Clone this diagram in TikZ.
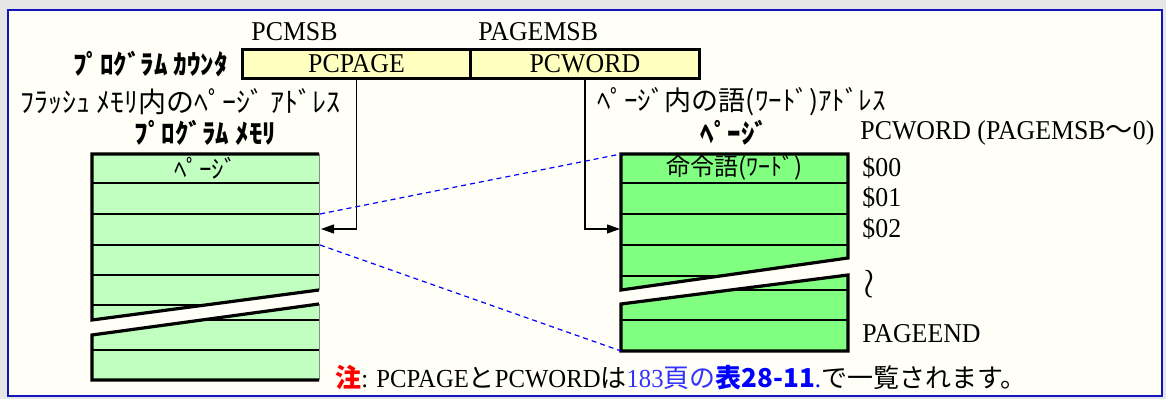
\documentclass[tikz,border=0pt]{standalone}
\usepackage{fontspec}
\setmainfont[FakeStretch=0.95]{Liberation Serif}
\newfontfamily\jp{Noto Sans CJK JP}
\usepackage{tikz}
\usetikzlibrary{arrows.meta, positioning, calc}
\definecolor{bleu}{RGB}{0,0,255}
\definecolor{bleuclair}{RGB}{50,50,255}
\definecolor{cadre}{RGB}{20,20,190}
\definecolor{gris}{RGB}{230,230,230}
\definecolor{ivoire}{RGB}{255,255,248}
\definecolor{jaune}{RGB}{255,255,192}
\definecolor{vertclair}{RGB}{192,255,192}
\definecolor{vert}{RGB}{128,255,128}
\definecolor{rouge}{RGB}{255,0,0}
\tikzset{
	texte/.style={inner sep=0pt, font=\fontsize{13.6}{15}\selectfont},
	champ/.style={texte, draw, line width=0.7pt, fill=jaune,
		minimum width=113.5pt, minimum height=14pt},
	ligne/.style={line width=0.7pt},
	bord/.style={line width=1.6pt, line join=miter},
	fleche/.style={line width=0.6pt, -{Triangle[length=6.5pt, width=4.5pt]}},
	pointille/.style={bleu, line width=0.6pt, dash pattern=on 2.5pt off 2pt}
}

\begin{document}
\begin{tikzpicture}[x=0.5pt, y=-0.5pt]
	% fond et cadre
	\fill[gris] (0,0) rectangle (1166,399);
	\useasboundingbox (0,0) rectangle (1166,399);
	\draw[cadre, line width=1pt, fill=ivoire] (8,10) rectangle (1162,396);
	
	% compteur programme : PCPAGE | PCWORD
	\node[champ] (pcpage) at (356.5,64) {PCPAGE};
	\node[champ, right=0pt of pcpage] (pcword) {PCWORD};
	\draw[bord] (pcpage.north west) rectangle (pcword.south east);
	\node[texte, anchor=base west] (pcmsb) at (251,41) {PCMSB};
	\node[texte, anchor=base west] (pagemsb) at (478,41) {PAGEMSB};
	\node[texte, left=7pt of pcpage, font=\fontsize{13.5}{15}\jp\bfseries] (compteur) {ﾌﾟﾛｸﾞﾗﾑ ｶｳﾝﾀ};
	\node[texte, anchor=west, font=\fontsize{14}{15}\jp] (adrpage) at (20,102) {ﾌﾗｯｼｭ ﾒﾓﾘ内のﾍﾟｰｼﾞ ｱﾄﾞﾚｽ};
	\node[texte, anchor=west, font=\fontsize{13.5}{15}\jp] (adrmot) at (597,102) {ﾍﾟｰｼﾞ内の語(ﾜｰﾄﾞ)ｱﾄﾞﾚｽ};
	
	% memoire programme, coupee en deux
	\begin{scope}
		\clip (92,154) -- (319,154) -- (319,290) -- (92,320) -- cycle;
		\fill[vertclair] (92,154) rectangle (319,320);
		\foreach \y in {183,214,245,275,305}
		\draw[ligne] (92,\y) -- (319,\y);
	\end{scope}
	\draw[gris!60!black, line width=0.5pt] (319,154) -- (319,290);
	\draw[bord] (319,290) -- (92,320) -- (92,154) -- (319,154);
	\begin{scope}
		\clip (92,335) -- (319,304) -- (319,380) -- (92,380) -- cycle;
		\fill[vertclair] (92,304) rectangle (319,380);
		\foreach \y in {320,350}
		\draw[ligne] (92,\y) -- (319,\y);
	\end{scope}
	\draw[gris!60!black, line width=0.5pt] (319,304) -- (319,380);
	\draw[bord] (319,304) -- (92,335) -- (92,380) -- (319,380);
	\node[texte, font=\fontsize{13.5}{15}\jp\bfseries] (titremem) at (205.5,133) {ﾌﾟﾛｸﾞﾗﾑ ﾒﾓﾘ};
	\node[texte, font=\fontsize{12.5}{15}\jp] (page) at (205.5,168) {ﾍﾟｰｼﾞ};
	
	% page agrandie
	\begin{scope}
		\clip (621,154) -- (848,154) -- (848,258) -- (621,290) -- cycle;
		\fill[vert] (621,154) rectangle (848,290);
		\foreach \y in {183,214,245,276}
		\draw[ligne] (621,\y) -- (848,\y);
	\end{scope}
	\draw[bord] (621,290) -- (848,258) -- (848,154) -- (621,154) -- cycle;
	\begin{scope}
		\clip (621,304) -- (848,275) -- (848,351) -- (621,351) -- cycle;
		\fill[vert] (621,275) rectangle (848,351);
		\foreach \y in {290,320}
		\draw[ligne] (621,\y) -- (848,\y);
	\end{scope}
	\draw[bord] (621,304) -- (848,275) -- (848,351) -- (621,351) -- cycle;
	\node[texte, font=\fontsize{13.5}{15}\jp\bfseries] (titrepage) at (734.5,133) {ﾍﾟｰｼﾞ};
	\node[texte, font=\fontsize{12}{15}\jp] (mot) at (734.5,168) {命令語(ﾜｰﾄﾞ)};
	
	% adresses des mots
	\node[texte, anchor=west] (pcwordbits) at (860,133) {PCWORD (PAGEMSB{\jp ～}0)};
	\node[texte, anchor=west] (m00) at (862,168) {\$00};
	\node[texte, anchor=west] (m01) at (862,198) {\$01};
	\node[texte, anchor=west] (m02) at (862,229) {\$02};
	\node[texte, font=\fontsize{20}{22}\selectfont] (coupure) at (869,284) {$\wr$};
	\node[texte, anchor=west] (fin) at (862,334) {PAGEEND};
	
	% connexions
	\coordinate (entreemem) at (321,229);
	\coordinate (entreepage) at (620,229);
	\draw[fleche] (pcpage.south) |- (entreemem);
	\draw[fleche] (pcword.south) |- (entreepage);
	\coordinate (pagehaut) at (320,214);
	\coordinate (pagebas) at (320,245);
	\coordinate (agrhaut) at (621,154);
	\coordinate (agrbas) at (621,351);
	\draw[pointille] (pagehaut) -- (agrhaut);
	\draw[pointille] (pagebas) -- (agrbas);
	
	% note
	\node[texte, anchor=west, font=\fontsize{13}{15}\selectfont] (note) at (335,378)
	{{\color{rouge}\jp\bfseries 注}: PCPAGE{\jp と}PCWORD{\jp は}{\color{bleuclair}183{\jp 頁の}}{\color{bleu}\jp\bfseries 表28-11}{\color{bleu}.}{\jp で一覧されます。}};
\end{tikzpicture}
\end{document}
